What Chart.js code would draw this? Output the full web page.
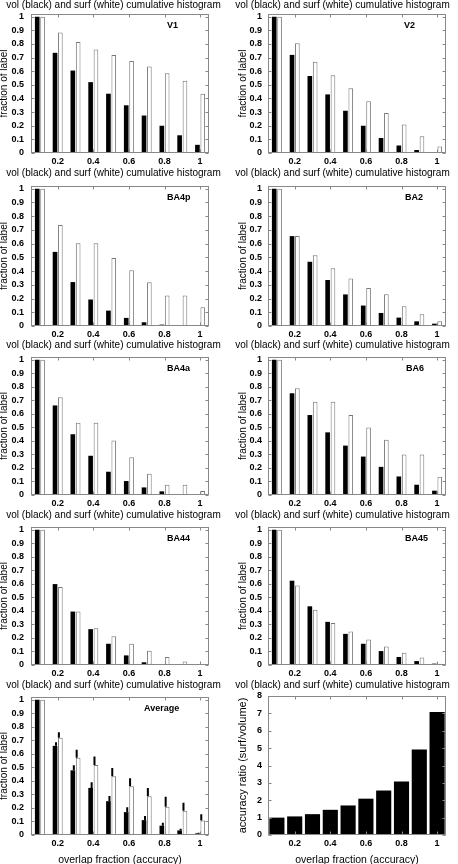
<!DOCTYPE html>
<html><head><meta charset="utf-8">
<script src="https://cdn.jsdelivr.net/npm/chart.js@4.4.1/dist/chart.umd.min.js"></script>
<style>
html,body{margin:0;padding:0;background:#fff;}
body{width:458px;height:864px;overflow:hidden;position:relative;}
canvas{position:absolute;}
</style></head><body>
<script>
// ---------- data ----------
const overlap = [0.1, 0.2, 0.3, 0.4, 0.5, 0.6, 0.7, 0.8, 0.9, 1.0];
const xTickValues = [0.2, 0.4, 0.6, 0.8, 1];
const xTickLabels = ['0.2', '0.4', '0.6', '0.8', '1'];
const fracTickValues = [0, 0.1, 0.2, 0.3, 0.4, 0.5, 0.6, 0.7, 0.8, 0.9, 1];
const fracTickLabels = ['0', '0.1', '0.2', '0.3', '0.4', '0.5', '0.6', '0.7', '0.8', '0.9', '1'];
const ratioTickValues = [0, 1, 2, 3, 4, 5, 6, 7, 8];
const ratioTickLabels = ['0', '1', '2', '3', '4', '5', '6', '7', '8'];

const v1Vol   = [1.0, 0.735, 0.605, 0.52, 0.435, 0.35, 0.275, 0.20, 0.13, 0.06];
const v1Surf  = [1.0, 0.885, 0.815, 0.76, 0.72, 0.675, 0.635, 0.585, 0.53, 0.435];
const v2Vol   = [1.0, 0.72, 0.565, 0.43, 0.31, 0.20, 0.11, 0.055, 0.022, 0.004];
const v2Surf  = [1.0, 0.805, 0.67, 0.57, 0.475, 0.38, 0.293, 0.21, 0.123, 0.047];
const ba4pVol  = [1.0, 0.54, 0.32, 0.193, 0.112, 0.059, 0.027, 0.01, 0.002, 0];
const ba4pSurf = [1.0, 0.735, 0.603, 0.603, 0.495, 0.407, 0.318, 0.223, 0.223, 0.136];
const ba2Vol   = [1.0, 0.655, 0.468, 0.335, 0.23, 0.149, 0.095, 0.061, 0.034, 0.017];
const ba2Surf  = [1.0, 0.655, 0.515, 0.42, 0.346, 0.276, 0.232, 0.144, 0.085, 0.034];
const ba4aVol  = [1.0, 0.662, 0.449, 0.29, 0.172, 0.103, 0.056, 0.027, 0.007, 0];
const ba4aSurf = [1.0, 0.723, 0.534, 0.534, 0.402, 0.279, 0.157, 0.076, 0.076, 0.029];
const ba6Vol   = [1.0, 0.752, 0.591, 0.463, 0.365, 0.284, 0.208, 0.137, 0.076, 0.032];
const ba6Surf  = [1.0, 0.789, 0.689, 0.689, 0.591, 0.498, 0.409, 0.299, 0.299, 0.135];
const ba44Vol  = [1.0, 0.598, 0.395, 0.265, 0.157, 0.071, 0.02, 0.007, 0.002, 0.002];
const ba44Surf = [1.0, 0.576, 0.395, 0.272, 0.213, 0.157, 0.105, 0.059, 0.025, 0.007];
const ba45Vol  = [1.0, 0.623, 0.434, 0.319, 0.23, 0.157, 0.103, 0.059, 0.029, 0.01];
const ba45Surf = [1.0, 0.588, 0.409, 0.311, 0.248, 0.189, 0.137, 0.091, 0.056, 0.01];
const avgVol     = [1.0, 0.659, 0.478, 0.348, 0.25, 0.169, 0.11, 0.069, 0.034, 0.012];
const avgSurf    = [1.0, 0.718, 0.571, 0.517, 0.434, 0.36, 0.287, 0.208, 0.179, 0.108];
const avgVolErr  = [0, 0.027, 0.037, 0.042, 0.039, 0.037, 0.03, 0.022, 0.013, 0.005];
const avgSurfErr = [0, 0.042, 0.059, 0.064, 0.061, 0.059, 0.061, 0.074, 0.059, 0.046];
const accuracyRatio = [1.0, 1.07, 1.2, 1.45, 1.7, 2.09, 2.56, 3.08, 4.92, 7.08];

const chartTitle = 'vol (black) and surf (white) cumulative histogram';
const yTitle = 'fraction of label';
const xTitle = 'overlap fraction (accuracy)';
const ratioTitle = 'accuracy ratio (surf/volume)';

// ---------- layout ----------
const FONT = "'Liberation Sans', Arial, Helvetica, sans-serif";
const cols = [
  {left: -2, width: 231, yW: 33, rW: 20, tickPad: 7, yTitlePad: 0},
  {left: 229, width: 227, yW: 39, rW: 10, tickPad: 6, yTitlePad: 8}
];
const rows = [
  {top: -1,  titlePad: 3, plotH: 139, xH: 14},
  {top: 167, titlePad: 7, plotH: 140, xH: 14},
  {top: 339, titlePad: 6, plotH: 138, xH: 14},
  {top: 509, titlePad: 6, plotH: 138, xH: 14},
  {top: 679, titlePad: 6, plotH: 138, xH: 31}
];

const panels = [
  {name: 'V1',   vol: v1Vol,   surf: v1Surf,   col: 0, row: 0, dx: 136},
  {name: 'V2',   vol: v2Vol,   surf: v2Surf,   col: 1, row: 0, dx: 136},
  {name: 'BA4p', vol: ba4pVol, surf: ba4pSurf, col: 0, row: 1, dx: 136},
  {name: 'BA2',  vol: ba2Vol,  surf: ba2Surf,  col: 1, row: 1, dx: 137},
  {name: 'BA4a', vol: ba4aVol, surf: ba4aSurf, col: 0, row: 2, dx: 136},
  {name: 'BA6',  vol: ba6Vol,  surf: ba6Surf,  col: 1, row: 2, dx: 138},
  {name: 'BA44', vol: ba44Vol, surf: ba44Surf, col: 0, row: 3, dx: 136},
  {name: 'BA45', vol: ba45Vol, surf: ba45Surf, col: 1, row: 3, dx: 137},
  {name: 'Average', vol: avgVol, surf: avgSurf, col: 0, row: 4, dx: 113, volErr: avgVolErr, surfErr: avgSurfErr}
];

function makeCanvas(left, top, w, h) {
  const c = document.createElement('canvas');
  c.width = w; c.height = h;
  c.style.left = left + 'px'; c.style.top = top + 'px';
  c.style.width = w + 'px'; c.style.height = h + 'px';
  document.body.appendChild(c);
  return c;
}

function framePlugin(yVals) {
  return {
    id: 'frame',
    afterDatasetsDraw(chart) {
      const {ctx, chartArea: a, scales} = chart;
      ctx.save();
      ctx.strokeStyle = '#888';
      ctx.lineWidth = 1;
      const L = Math.round(a.left) + 0.5, R = Math.round(a.right) - 0.5;
      const T = Math.round(a.top) + 0.5, B = Math.round(a.bottom) - 0.5;
      ctx.strokeRect(L, T, R - L, B - T);
      ctx.beginPath();
      const tl = 3;
      for (const v of yVals) {
        const y = Math.round(scales.y.getPixelForValue(v)) + 0.5;
        ctx.moveTo(L, y); ctx.lineTo(L + tl, y);
        ctx.moveTo(R, y); ctx.lineTo(R - tl, y);
      }
      for (const v of xTickValues) {
        const x = Math.round(scales.x.getPixelForValue(v)) + 0.5;
        ctx.moveTo(x, B); ctx.lineTo(x, B - tl);
        ctx.moveTo(x, T); ctx.lineTo(x, T + tl);
      }
      ctx.stroke();
      ctx.restore();
    }
  };
}

function labelPlugin(text, dx) {
  return {
    id: 'panelLabel',
    afterDatasetsDraw(chart) {
      const {ctx, chartArea: a} = chart;
      ctx.save();
      ctx.fillStyle = '#000';
      ctx.font = 'bold 9px ' + FONT;
      ctx.textAlign = 'left';
      ctx.textBaseline = 'middle';
      ctx.fillText(text, a.left + dx, a.top + 11.5);
      ctx.restore();
    }
  };
}

function errPlugin(volErr, surfErr) {
  return {
    id: 'errBars',
    afterDatasetsDraw(chart) {
      const {ctx, scales} = chart;
      const sets = [[0, volErr, 1], [1, surfErr, -1.5]];
      ctx.save();
      ctx.strokeStyle = '#000';
      ctx.lineWidth = 2;
      ctx.beginPath();
      for (const [d, errs, off] of sets) {
        const meta = chart.getDatasetMeta(d);
        const vals = chart.data.datasets[d].data;
        meta.data.forEach((el, i) => {
          if (!errs[i]) return;
          const x = el.x + off;
          const yTop = scales.y.getPixelForValue(vals[i].y + errs[i]);
          ctx.moveTo(x, el.y);
          ctx.lineTo(x, yTop);
        });
      }
      ctx.stroke();
      ctx.restore();
    }
  };
}

const tickFont = {family: FONT, size: 9, weight: 'bold', lineHeight: 1.2};

function baseOptions(col, row, yMax, yVals, yLabels, yTitleText, yTitleSize, showXTitle, titlePad) {
  return {
    responsive: false,
    animation: false,
    events: [],
    layout: {padding: 0},
    plugins: {
      legend: {display: false},
      tooltip: {enabled: false},
      title: {
        display: true, text: chartTitle, color: '#000',
        font: {family: FONT, size: 10, weight: 'normal', lineHeight: 1.2},
        padding: {top: 0, bottom: titlePad}
      }
    },
    scales: {
      x: {
        type: 'linear', min: 0.05, max: 1.05, bounds: 'data', offset: false,
        grid: {display: false, drawTicks: false},
        border: {display: false},
        afterBuildTicks: s => { s.ticks = xTickValues.map(v => ({value: v})); },
        ticks: {
          autoSkip: false, maxRotation: 0, minRotation: 0, padding: 3,
          color: '#000', font: tickFont,
          callback: (v, i) => xTickLabels[i]
        },
        title: {
          display: showXTitle, text: xTitle, color: '#000',
          font: {family: FONT, size: 10.5, weight: 'normal', lineHeight: 1.2},
          padding: {top: 0, bottom: 0}
        },
        afterFit: s => { s.height = row.xH; }
      },
      y: {
        type: 'linear', min: 0, max: yMax, bounds: 'data', position: 'left',
        grid: {display: false, drawTicks: false},
        border: {display: false},
        afterBuildTicks: s => { s.ticks = yVals.map(v => ({value: v})); },
        ticks: {
          autoSkip: false, padding: col.tickPad, color: '#000', font: tickFont,
          callback: (v, i) => yLabels[i]
        },
        title: {
          display: true, text: yTitleText, color: '#000',
          font: {family: FONT, size: yTitleSize, weight: 'normal', lineHeight: 1.2},
          padding: {top: col.yTitlePad, bottom: 0}
        },
        afterFit: s => { s.width = col.yW; }
      },
      y2: {
        type: 'linear', position: 'right', display: true,
        grid: {display: false, drawTicks: false},
        border: {display: false},
        ticks: {display: false},
        afterFit: s => { s.width = col.rW; }
      }
    }
  };
}

// ---------- histogram panels ----------
for (const p of panels) {
  const col = cols[p.col], row = rows[p.row];
  const h = 12 + row.titlePad + row.plotH + row.xH;
  const c = makeCanvas(col.left, row.top, col.width, h);
  const plugins = [framePlugin(fracTickValues), labelPlugin(p.name, p.dx)];
  if (p.volErr) plugins.push(errPlugin(p.volErr, p.surfErr));
  const opts = baseOptions(col, row, 1.02, fracTickValues, fracTickLabels, yTitle, 10, p.row === 4, row.titlePad);
  opts.datasets = {bar: {categoryPercentage: 0.6, barPercentage: 0.87, grouped: true}};
  new Chart(c, {
    type: 'bar',
    data: {
      datasets: [
        {label: 'vol', data: overlap.map((x, i) => ({x: x, y: p.vol[i]})),
         backgroundColor: '#000', borderWidth: 0},
        {label: 'surf', data: overlap.map((x, i) => ({x: x, y: p.surf[i]})),
         backgroundColor: '#fff', borderColor: '#777', borderWidth: 1}
      ]
    },
    options: opts,
    plugins: plugins
  });
}

// ---------- ratio panel ----------
{
  const col = cols[1], row = rows[4];
  const titlePad = 5, plotH = 139;
  const rrow = {xH: row.xH};
  const h = 12 + titlePad + plotH + row.xH;
  const c = makeCanvas(col.left, row.top, col.width, h);
  const rcol = Object.assign({}, col, {yTitlePad: 7});
  const opts = baseOptions(rcol, rrow, 8, ratioTickValues, ratioTickLabels, ratioTitle, 11, true, titlePad);
  opts.datasets = {bar: {categoryPercentage: 1.0, barPercentage: 0.85}};
  new Chart(c, {
    type: 'bar',
    data: {
      datasets: [
        {label: 'ratio', data: overlap.map((x, i) => ({x: x, y: accuracyRatio[i]})),
         backgroundColor: '#000', borderWidth: 0}
      ]
    },
    options: opts,
    plugins: [framePlugin(ratioTickValues)]
  });
}
</script>
</body></html>
